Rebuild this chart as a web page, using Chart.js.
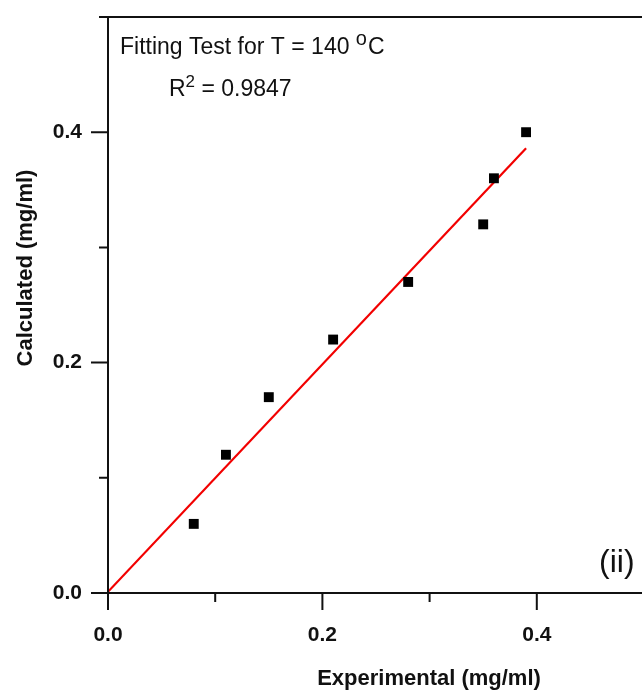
<!DOCTYPE html>
<html lang="en">
<head>
<meta charset="UTF-8">
<title>Fitting Test for T = 140 °C</title>
<script src="https://cdn.jsdelivr.net/npm/chart.js"></script>
<style>
    html, body {
        margin: 0;
        padding: 0;
        background: #fff;
        overflow: hidden;
    }
    canvas {
        display: block;
    }
</style>
</head>
<body>
<canvas id="fitChart" width="651" height="693"></canvas>
<script>
    // measured vs model values (mg/ml)
    const experimental = [0.08, 0.11, 0.15, 0.21, 0.28, 0.35, 0.36, 0.39];
    const calculated = [0.06, 0.12, 0.17, 0.22, 0.27, 0.32, 0.36, 0.40];

    // end points of the fitted line
    const fitX = [0.0, 0.39];
    const fitY = [0.001, 0.386];

    const tickValues = [0.0, 0.1, 0.2, 0.3, 0.4, 0.5];
    const labelledTicks = [0.0, 0.2, 0.4];

    const FONT = "'Liberation Sans', Arial, sans-serif";
    const INK = '#111';

    const isLabelled = v => labelledTicks.some(t => Math.abs(t - v) < 1e-9);

    // axis frame, outward ticks, titles and the text on the plot
    const framePlugin = {
        id: 'frame',
        afterDraw(chart) {
            const ctx = chart.ctx;
            const area = chart.chartArea;
            const xs = chart.scales.x;
            const ys = chart.scales.y;
            const w = chart.width;

            ctx.save();
            ctx.strokeStyle = INK;
            ctx.lineWidth = 2;
            ctx.lineCap = 'butt';

            ctx.beginPath();
            ctx.moveTo(area.left, area.top);
            ctx.lineTo(area.left, area.bottom);
            ctx.moveTo(area.left, area.bottom);
            ctx.lineTo(w, area.bottom);
            ctx.moveTo(area.left, area.top);
            ctx.lineTo(w, area.top);
            ctx.stroke();

            ctx.beginPath();
            tickValues.forEach(v => {
                const len = isLabelled(v) ? 17 : 9;
                const px = xs.getPixelForValue(v);
                ctx.moveTo(px, area.bottom);
                ctx.lineTo(px, area.bottom + len);
                const py = ys.getPixelForValue(v);
                ctx.moveTo(area.left, py);
                ctx.lineTo(area.left - len, py);
            });
            ctx.stroke();

            ctx.fillStyle = INK;

            // axis titles
            ctx.font = 'bold 22px ' + FONT;
            ctx.textAlign = 'center';
            ctx.textBaseline = 'alphabetic';
            ctx.fillText('Experimental (mg/ml)', 429, 685);

            ctx.save();
            ctx.translate(32, 268);
            ctx.rotate(-Math.PI / 2);
            ctx.fillText('Calculated (mg/ml)', 0, 0);
            ctx.restore();

            // fit caption
            ctx.textAlign = 'left';
            ctx.font = '23px ' + FONT;
            const line1 = 'Fitting Test for T = 140 ';
            ctx.fillText(line1, 120, 54);
            let x = 120 + ctx.measureText(line1).width;
            ctx.font = '20px ' + FONT;
            ctx.fillText('o', x, 45);
            x += ctx.measureText('o').width + 1;
            ctx.font = '23px ' + FONT;
            ctx.fillText('C', x, 54);

            ctx.fillText('R', 169, 96);
            x = 169 + ctx.measureText('R').width;
            ctx.font = '17px ' + FONT;
            ctx.fillText('2', x, 87);
            x += ctx.measureText('2').width;
            ctx.font = '23px ' + FONT;
            ctx.fillText(' = 0.9847', x, 96);

            // panel tag
            ctx.font = '32px ' + FONT;
            ctx.fillText('(ii)', 599, 572);

            ctx.restore();
        }
    };

    const points = experimental.map((x, i) => ({ x: x, y: calculated[i] }));
    const fitLine = fitX.map((x, i) => ({ x: x, y: fitY[i] }));

    const tickFont = { family: FONT, size: 21, weight: 'bold' };

    new Chart(document.getElementById('fitChart'), {
        type: 'scatter',
        data: {
            datasets: [
                {
                    label: 'Data',
                    data: points,
                    pointStyle: 'rect',
                    pointRadius: 7,
                    pointBorderWidth: 0,
                    backgroundColor: '#000',
                    borderColor: '#000'
                },
                {
                    label: 'Fit',
                    data: fitLine,
                    showLine: true,
                    pointRadius: 0,
                    borderColor: '#f20000',
                    borderWidth: 2.2,
                    fill: false
                }
            ]
        },
        options: {
            responsive: false,
            animation: false,
            layout: { padding: { top: 17, right: 2, left: 0, bottom: 0 } },
            plugins: {
                legend: { display: false },
                tooltip: { enabled: false }
            },
            scales: {
                x: {
                    type: 'linear',
                    min: 0,
                    max: 0.5,
                    grid: { display: false },
                    border: { display: false },
                    afterFit: s => {
                        s.height = 100;
                        s.paddingLeft = 0;
                        s.paddingRight = 0;
                    },
                    afterBuildTicks: s => { s.ticks = tickValues.map(v => ({ value: v })); },
                    ticks: {
                        autoSkip: false,
                        maxRotation: 0,
                        padding: 22,
                        color: INK,
                        font: tickFont,
                        callback: v => isLabelled(v) ? v.toFixed(1) : ''
                    }
                },
                y: {
                    type: 'linear',
                    min: 0,
                    max: 0.5,
                    grid: { display: false },
                    border: { display: false },
                    afterFit: s => {
                        s.width = 108;
                        s.paddingTop = 0;
                        s.paddingBottom = 0;
                    },
                    afterBuildTicks: s => { s.ticks = tickValues.map(v => ({ value: v })); },
                    ticks: {
                        autoSkip: false,
                        padding: 18,
                        color: INK,
                        font: tickFont,
                        callback: v => isLabelled(v) ? v.toFixed(1) : ''
                    }
                }
            }
        },
        plugins: [framePlugin]
    });
</script>
</body>
</html>
